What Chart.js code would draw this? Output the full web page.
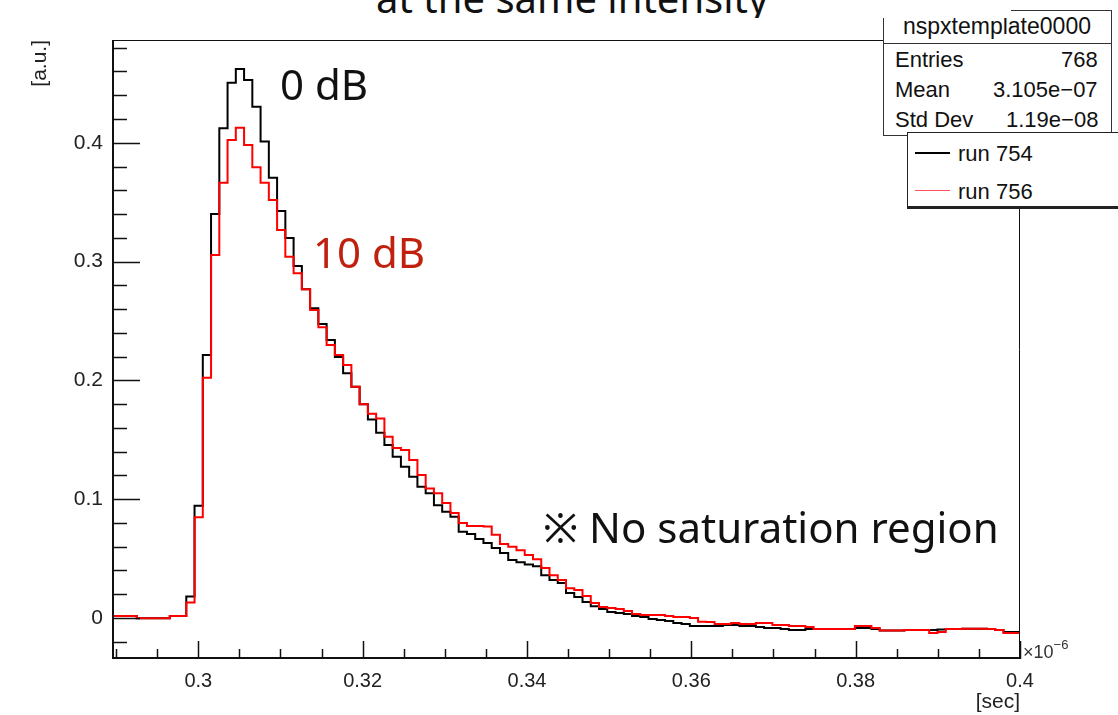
<!DOCTYPE html>
<html>
<head>
<meta charset="utf-8">
<script src="https://cdn.jsdelivr.net/npm/chart.js@4.4.1/dist/chart.umd.min.js"></script>
<style>
  html, body { margin: 0; padding: 0; background: #fff; }
  #wrap { position: relative; width: 1118px; height: 715px; overflow: hidden; }
  #c { position: absolute; left: 0; top: 0; }
  .lbl { position: absolute; white-space: nowrap; line-height: 1.2; }
  .box { position: absolute; box-sizing: border-box; background: #fff; }
  .root { font-family: 'Liberation Sans', Arial, sans-serif; font-size: 22px; color: #111; }
  .slide { font-family: 'Noto Sans', 'Noto Sans CJK JP', sans-serif; font-size: 42px; }
</style>
</head>
<body>
<div id="wrap">
  <canvas id="c" width="1118" height="715"></canvas>
  <div id="overlay"></div>
</div>
<script>
// histogram range (x in units of 1e-6 s) and bin contents
const xMin = 0.2895, xMax = 0.4;
const yMin = -0.0345, yMax = 0.4865;

// run 754 (0 dB, black)
const run754 = [
  0.0017, 0.0017, 0.0017, -0.0003, -0.0003, -0.0003, -0.0003, 0.0017, 0.0017, 0.018,
  0.0945, 0.2214, 0.340, 0.4122, 0.4506, 0.4621, 0.4529, 0.4304, 0.401, 0.3706,
  0.3426, 0.3199, 0.2963, 0.2767, 0.2607, 0.2475, 0.234, 0.2197, 0.206, 0.1947,
  0.180, 0.167, 0.156, 0.1456, 0.1358, 0.1274, 0.119, 0.1105, 0.105, 0.095,
  0.0895, 0.0853, 0.0726, 0.0707, 0.0665, 0.0631, 0.0589, 0.0547, 0.0488, 0.047,
  0.045, 0.0435, 0.036, 0.032, 0.0295, 0.021, 0.0177, 0.0135, 0.010, 0.0076,
  0.005, 0.0042, 0.0034, 0.0017, 0.0008, -0.0008, -0.0017, -0.0025, -0.0042, -0.005,
  -0.0067, -0.0067, -0.0067, -0.0067, -0.0059, -0.0059, -0.0067, -0.0067, -0.0076, -0.0084,
  -0.0084, -0.0093, -0.0101, -0.0101, -0.0093, -0.0093, -0.0093, -0.0093, -0.0093, -0.0093,
  -0.0084, -0.0084, -0.0093, -0.0105, -0.0105, -0.0105, -0.0101, -0.0101, -0.0101, -0.0101,
  -0.0097, -0.0093, -0.0093, -0.009, -0.009, -0.009, -0.0093, -0.0101, -0.0118, -0.0118
];

// run 756 (10 dB, red)
const run756 = [
  0.0017, 0.0017, 0.0017, -0.0003, -0.0003, -0.0003, -0.0003, 0.0017, 0.0017, 0.013,
  0.0848, 0.2023, 0.3056, 0.3664, 0.4024, 0.4127, 0.3981, 0.3794, 0.3664, 0.3519,
  0.3266, 0.3041, 0.2902, 0.2767, 0.2593, 0.2447, 0.2298, 0.2214, 0.213, 0.1947,
  0.180, 0.172, 0.168, 0.1526, 0.143, 0.1414, 0.133, 0.1204, 0.109, 0.105,
  0.0968, 0.0884, 0.080, 0.0774, 0.0774, 0.077, 0.070, 0.0623, 0.060, 0.057,
  0.053, 0.0495, 0.042, 0.036, 0.032, 0.025, 0.0236, 0.0185, 0.0126, 0.0093,
  0.0084, 0.0076, 0.0059, 0.0034, 0.0025, 0.0025, 0.0025, 0.0017, 0.0008, 0.0008,
  0.0, -0.0031, -0.0034, -0.005, -0.005, -0.0042, -0.005, -0.005, -0.0042, -0.0042,
  -0.0059, -0.0059, -0.0067, -0.0067, -0.0076, -0.0093, -0.0093, -0.0093, -0.0093, -0.0093,
  -0.0067, -0.0067, -0.0084, -0.0105, -0.0105, -0.0105, -0.0101, -0.0101, -0.0101, -0.0126,
  -0.0118, -0.0093, -0.0093, -0.009, -0.009, -0.009, -0.0093, -0.0101, -0.0126, -0.0126
];

const seriesLabels = ['run 754', 'run 756'];
const seriesColors = ['#000000', '#ff0000'];

const xTickValues = [0.3, 0.32, 0.34, 0.36, 0.38, 0.4];
const yTickValues = [0, 0.1, 0.2, 0.3, 0.4];
const xMinorStep = 0.005;
const yMinorStep = 0.02;

const statsRows = [['Entries', '768'], ['Mean', '3.105e\u221207'], ['Std Dev', '1.19e\u221208']];

// each bin becomes a point at its low edge, plus one closing point at the high edge
function histPoints(vals) {
  const w = (xMax - xMin) / vals.length;
  const pts = vals.map((v, i) => ({ x: xMin + i * w, y: v }));
  pts.push({ x: xMax, y: vals[vals.length - 1] });
  return pts;
}

// ROOT-like frame with inward major / minor ticks
const rootFrame = {
  id: 'rootFrame',
  afterDatasetsDraw(chart) {
    const { ctx, chartArea: a, scales: { x, y } } = chart;
    ctx.save();
    ctx.strokeStyle = '#111';
    ctx.lineWidth = 1;
    ctx.beginPath();
    ctx.moveTo(a.left, a.top + 0.5); ctx.lineTo(a.right, a.top + 0.5);
    ctx.moveTo(a.right - 0.5, a.top); ctx.lineTo(a.right - 0.5, a.bottom);
    ctx.stroke();
    ctx.lineWidth = 2;
    ctx.beginPath();
    ctx.moveTo(a.left + 1, a.top); ctx.lineTo(a.left + 1, a.bottom);
    ctx.moveTo(a.left, a.bottom - 1); ctx.lineTo(a.right, a.bottom - 1);
    ctx.stroke();

    ctx.lineWidth = 1.5;
    ctx.beginPath();
    for (let v = 0.29; v <= xMax + 1e-9; v += xMinorStep) {
      const px = Math.round(x.getPixelForValue(v)) + 0.5;
      const major = xTickValues.some(t => Math.abs(t - v) < 1e-6);
      ctx.moveTo(px, a.bottom);
      ctx.lineTo(px, a.bottom - (major ? 18 : 10));
    }
    for (let v = -0.02; v <= yMax; v += yMinorStep) {
      const py = Math.round(y.getPixelForValue(v)) + 0.5;
      const major = yTickValues.some(t => Math.abs(t - v) < 1e-6);
      ctx.moveTo(a.left, py);
      ctx.lineTo(a.left + (major ? 28 : 15), py);
    }
    ctx.stroke();
    ctx.restore();
  }
};

Chart.defaults.font.family = "'Liberation Sans', Arial, sans-serif";
Chart.defaults.color = '#222';

const chart = new Chart(document.getElementById('c'), {
  type: 'line',
  data: {
    datasets: [
      {
        label: seriesLabels[0], data: histPoints(run754),
        borderColor: seriesColors[0], borderWidth: 2, stepped: 'before',
        pointRadius: 0, fill: false, order: 1
      },
      {
        label: seriesLabels[1], data: histPoints(run756),
        borderColor: seriesColors[1], borderWidth: 2, stepped: 'before',
        pointRadius: 0, fill: false, order: 0
      }
    ]
  },
  options: {
    responsive: false,
    animation: false,
    layout: { padding: { top: 40, right: 98, left: 0, bottom: 0 } },
    plugins: { legend: { display: false }, tooltip: { enabled: false } },
    scales: {
      x: {
        type: 'linear', min: xMin, max: xMax,
        afterBuildTicks: s => { s.ticks = xTickValues.map(v => ({ value: v })); },
        afterFit: s => { s.height = 56; },
        ticks: { font: { size: 20 }, padding: 10, maxRotation: 0, autoSkip: false, callback: v => String(v) },
        grid: { display: false, drawTicks: false },
        border: { display: false },
        title: { display: true, text: '[sec]', align: 'end', font: { size: 21 }, padding: { top: 0, bottom: 0 } }
      },
      y: {
        type: 'linear', min: yMin, max: yMax,
        afterBuildTicks: s => { s.ticks = yTickValues.map(v => ({ value: v })); },
        afterFit: s => { s.width = 112; },
        ticks: { font: { size: 21 }, padding: 9, callback: v => String(v) },
        grid: { display: false, drawTicks: false },
        border: { display: false },
        title: { display: true, text: '[a.u.]', align: 'end', font: { size: 21 }, padding: { top: 28, bottom: 0 } }
      }
    }
  },
  plugins: [rootFrame]
});

// ---- overlay texts and boxes
const overlay = document.getElementById('overlay');

function box(x, y, w, h, css) {
  const d = document.createElement('div');
  d.className = 'box';
  d.style.cssText += `left:${x}px;top:${y}px;width:${w}px;height:${h}px;` + (css || '');
  overlay.appendChild(d);
  return d;
}

// put text so that its baseline sits at `base`
function putText(txt, x, base, cls, align, css, parent) {
  const d = document.createElement('div');
  d.className = 'lbl ' + cls;
  if (css) d.style.cssText += css;
  d.innerHTML = txt;
  const m = document.createElement('span');
  m.style.cssText = 'display:inline-block;width:0;height:0;vertical-align:baseline';
  d.appendChild(m);
  (parent || overlay).appendChild(d);
  const w = d.offsetWidth;
  let left = x;
  if (align === 'right') left = x - w;
  if (align === 'center') left = x - w / 2;
  d.style.left = left + 'px';
  d.style.top = (base - m.offsetTop) + 'px';
  return d;
}

// stats box
box(883, 10, 229, 126, 'border:1px solid #333;');
box(883, 43, 229, 1, 'background:#333;');
putText('nspxtemplate0000', 997, 34, 'root', 'center', 'font-size:23px;');
statsRows.forEach((r, i) => {
  putText(r[0], 895, 67 + i * 30, 'root', 'left');
  putText(r[1], 1098, 67 + i * 30, 'root', 'right');
});

// slide title, partly hidden above the page
const cover = box(0, 0, 1011, 18, 'overflow:hidden;');
putText('at the same intensity', 572, 13, 'slide', 'center', 'color:#111;font-size:40px;', cover);

// legend box built from the datasets
box(907, 132, 240, 77, 'border:1px solid #222;border-bottom:3px solid #222;');
chart.data.datasets.forEach((ds, i) => {
  const y = 153 + i * 38;
  box(915, y - 1, 35, i === 0 ? 2 : 1, `background:${i === 0 ? ds.borderColor : '#ff5060'};`);
  putText(ds.label, 958, y + 8, 'root', 'left');
});

// annotations
putText('0 dB', 280, 100, 'slide', 'left', 'color:#111;');
putText('10 dB', 313, 268, 'slide', 'left', 'color:#c0200e;');
putText('\u203B No saturation region', 543, 543, 'slide', 'left', 'color:#111;');

// x axis exponent
putText('\u00D710<sup style="font-size:13px;vertical-align:9px">\u22126</sup>', 1023, 658, 'root', 'left', 'font-size:18px;color:#333;');
</script>
</body>
</html>
